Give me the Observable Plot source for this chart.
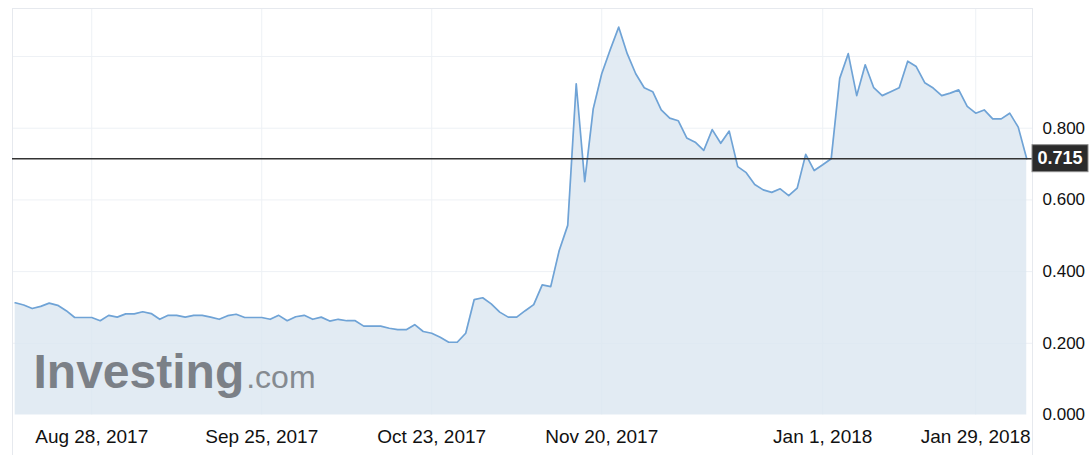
<!DOCTYPE html>
<html><head><meta charset="utf-8">
<script src="https://cdn.jsdelivr.net/npm/d3@7"></script>
<script src="https://cdn.jsdelivr.net/npm/@observablehq/plot@0.6"></script>
<style>html,body{margin:0;padding:0;background:#fff;} svg{display:block;}</style>
</head><body><div id="chart"></div>
<script>
const values = [
  0.313,0.307,0.297,0.303,0.312,0.306,0.291,0.272,0.272,0.272,
  0.263,0.278,0.273,0.282,0.282,0.288,0.283,0.267,0.278,0.278,
  0.273,0.278,0.278,0.273,0.267,0.277,0.281,0.272,0.272,0.272,
  0.267,0.278,0.263,0.274,0.278,0.267,0.273,0.262,0.267,0.263,
  0.263,0.248,0.248,0.248,0.242,0.238,0.238,0.252,0.233,0.228,
  0.217,0.203,0.203,0.228,0.322,0.327,0.310,0.287,0.273,0.273,
  0.291,0.308,0.363,0.358,0.459,0.529,0.924,0.651,0.854,0.952,
  1.019,1.082,1.008,0.952,0.913,0.902,0.851,0.828,0.821,0.773,
  0.761,0.738,0.796,0.758,0.792,0.693,0.676,0.643,0.628,0.621,
  0.631,0.612,0.633,0.727,0.682,0.698,0.715,0.939,1.008,0.891,
  0.977,0.913,0.891,0.902,0.913,0.987,0.972,0.927,0.912,0.891,
  0.898,0.907,0.861,0.842,0.851,0.826,0.826,0.842,0.803,0.715
];
const tickIdx = [9, 29, 49, 69, 95, 113];
const tickLabels = ["Aug 28, 2017","Sep 25, 2017","Oct 23, 2017","Nov 20, 2017","Jan 1, 2018","Jan 29, 2018"];
const yTicks = [0, 0.2, 0.4, 0.6, 0.8];
const yGrid = [0.2, 0.4, 0.6, 0.8, 1.0];
const lastValue = values[values.length - 1];
const brandMain = "Investing";
const brandSuffix = ".com";

const data = values.map((v, i) => ({i, v}));
const xDomain = [-0.32, values.length - 0.32];
const yDomain = [0, 1.134];
const font = '"Liberation Sans", Arial, Helvetica, sans-serif';
const fmt = d3.format(".3f");

const plot = Plot.plot({
  width: 1089,
  height: 455,
  marginLeft: 12,
  marginRight: 57,
  marginTop: 8,
  marginBottom: 40.5,
  style: {fontFamily: font, background: "#fff", overflow: "visible"},
  x: {domain: xDomain, axis: null},
  y: {domain: yDomain, axis: null},
  marks: [
    Plot.ruleY(yGrid, {stroke: "#eef1f5", strokeWidth: 1}),
    Plot.ruleX(tickIdx, {y1: yDomain[0], y2: yDomain[1], stroke: "#eef1f5", strokeWidth: 1}),
    Plot.areaY(data, {x: "i", y: "v", fill: "#dbe6f0", fillOpacity: 0.8}),
    Plot.text([brandMain], {frameAnchor: "bottom-left", lineAnchor: "bottom", textAnchor: "start", dx: 21, dy: -27.5, fontSize: 48, fontWeight: "bold", fill: "#7b8087", letterSpacing: 0.3}),
    Plot.text([brandSuffix], {frameAnchor: "bottom-left", lineAnchor: "bottom", textAnchor: "start", dx: 233, dy: -27.5, fontSize: 32, fill: "#858a90"}),
    Plot.lineY(data, {x: "i", y: "v", stroke: "#6fa3d6", strokeWidth: 1.7}),
    Plot.ruleY([yDomain[1]], {stroke: "#e6e9ee"}),
    Plot.ruleX(xDomain, {y1: -0.113, y2: yDomain[1], stroke: "#e6e9ee"}),
    Plot.ruleY([lastValue], {stroke: "#333", strokeWidth: 1.5}),
    Plot.text(yTicks, {y: d => d, frameAnchor: "right", textAnchor: "start", dx: 10, text: d => fmt(d), fontSize: 17, fill: "#111"}),
    Plot.text(tickIdx, {x: d => d, frameAnchor: "bottom", dy: 27.5, text: (d, i) => tickLabels[i], fontSize: 19, fill: "#111"}),
    Plot.text([lastValue], {y: d => d, frameAnchor: "right", textAnchor: "middle", dx: 27.5, text: d => fmt(d) + " ", fontSize: 18, fontWeight: "bold", fill: "#fff"})
  ]
});

document.getElementById("chart").appendChild(plot);

const texts = Array.from(plot.querySelectorAll("text"));
const findText = s => texts.find(t => t.textContent === s);

// dark box behind the last-value label
const xRight = plot.scale("x").apply(xDomain[1]);
const yLast = plot.scale("y").apply(lastValue);
const lt = findText(fmt(lastValue) + " ");
if (lt) {
  lt.textContent = fmt(lastValue);
  const g = lt.parentNode;
  const rect = document.createElementNS("http://www.w3.org/2000/svg", "rect");
  rect.setAttribute("x", xRight);
  rect.setAttribute("y", yLast - 13.5);
  rect.setAttribute("width", 56);
  rect.setAttribute("height", 27);
  rect.setAttribute("fill", "#2b2b2b");
  rect.setAttribute("stroke", "#8c8c8c");
  rect.setAttribute("stroke-width", 1);
  g.parentNode.insertBefore(rect, g);
}
// place ".com" right after "Investing" (screen coordinates)
const tm = findText(brandMain);
const ts = findText(brandSuffix);
if (tm && ts) {
  const a = tm.getBoundingClientRect();
  const b = ts.getBoundingClientRect();
  const shift = (a.right + 2) - b.left;
  const cur = +(ts.getAttribute("x") || 0);
  ts.setAttribute("x", cur + shift);
}
</script>
</body></html>
